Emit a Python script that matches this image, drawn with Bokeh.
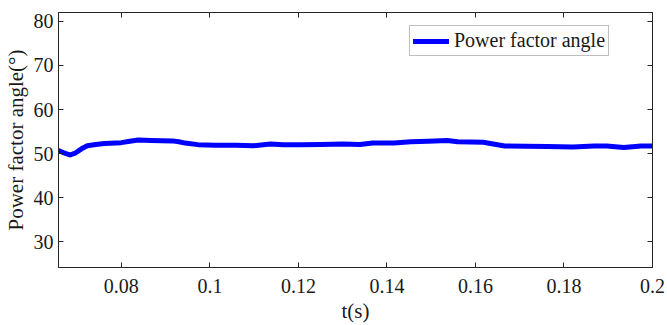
from bokeh.plotting import figure
from bokeh.models import Range1d, FixedTicker, LinearAxis, CustomJSTickFormatter, Legend, LegendItem
from bokeh.embed import file_html
from bokeh.resources import INLINE

t = [0.0658, 0.0672, 0.0684, 0.0697, 0.0710, 0.0723, 0.0742, 0.0762, 0.0800, 0.0819,
     0.0838, 0.0867, 0.0915, 0.0930, 0.0944, 0.0973, 0.1012, 0.1060, 0.1098, 0.1137,
     0.1166, 0.1204, 0.1252, 0.1300, 0.1339, 0.1368, 0.1416, 0.1454, 0.1493, 0.1536,
     0.1560, 0.1618, 0.1640, 0.1666, 0.1714, 0.1762, 0.1820, 0.1868, 0.1897, 0.1935,
     0.1974, 0.2000]
angle = [50.7, 50.1, 49.7, 50.2, 51.1, 51.8, 52.1, 52.3, 52.5, 52.8,
         53.1, 53.0, 52.9, 52.7, 52.4, 52.05, 51.9, 51.9, 51.8, 52.2,
         52.05, 52.05, 52.1, 52.2, 52.1, 52.4, 52.4, 52.7, 52.8, 53.0,
         52.7, 52.6, 52.2, 51.75, 51.7, 51.6, 51.5, 51.75, 51.75, 51.4,
         51.75, 51.75]
x_ticks = [0.08, 0.1, 0.12, 0.14, 0.16, 0.18, 0.2]
y_ticks = [30, 40, 50, 60, 70, 80]
series_label = "Power factor angle"
x_label = "t(s)"
y_label = "Power factor angle(°)"

FONT = "Liberation Serif"
TXT = "#1a1a1a"
AX = "#262626"

p = figure(width=667, height=325, output_backend="svg", toolbar_location=None,
           x_range=Range1d(0.0658, 0.2), y_range=Range1d(24.2, 82.0),
           min_border_left=57, min_border_right=15, min_border_top=12, min_border_bottom=58,
           x_axis_type=None, y_axis_type=None)
p.grid.visible = False
p.outline_line_color = AX
p.outline_line_width = 1

fmt = CustomJSTickFormatter(code="return String(Number(tick.toFixed(3)));")

def style(ax, ticks, labels=True):
    ax.ticker = FixedTicker(ticks=ticks)
    ax.major_tick_in = 5
    ax.major_tick_out = 0
    ax.minor_tick_line_color = None
    ax.axis_line_color = AX
    ax.major_tick_line_color = AX
    ax.major_label_text_font = FONT
    ax.major_label_text_font_size = "20px"
    ax.major_label_text_color = TXT
    ax.axis_label_text_font = FONT
    ax.axis_label_text_font_size = "21px"
    ax.axis_label_text_font_style = "normal"
    ax.axis_label_text_color = TXT
    if not labels:
        ax.major_label_text_font_size = "0px"
        ax.major_label_text_alpha = 0

xb = LinearAxis(formatter=fmt, axis_label=x_label)
style(xb, x_ticks)
xb.major_label_standoff = 11
xb.axis_label_standoff = 3
p.add_layout(xb, "below")

xt = LinearAxis(formatter=fmt)
style(xt, x_ticks, labels=False)
p.add_layout(xt, "above")

yl = LinearAxis(axis_label=y_label)
style(yl, y_ticks)
yl.major_label_standoff = 5
yl.axis_label_standoff = 3
p.add_layout(yl, "left")

yr = LinearAxis()
style(yr, y_ticks, labels=False)
p.add_layout(yr, "right")

r = p.line(t, angle, line_color="#0000ff", line_width=5, line_join="round", line_cap="round")

legend = Legend(items=[LegendItem(label=series_label, renderers=[r])],
                location=(351, 211), orientation="vertical")
legend.label_text_font = FONT
legend.label_text_font_size = "20px"
legend.label_text_color = TXT
legend.glyph_width = 36
legend.glyph_height = 20
legend.label_standoff = 5
legend.padding = 3
legend.margin = 0
legend.spacing = 0
legend.border_line_color = "#7f7f7f"
legend.border_line_width = 1
legend.background_fill_color = "white"
p.add_layout(legend, "center")

open("out.html", "w").write(file_html(p, INLINE))
